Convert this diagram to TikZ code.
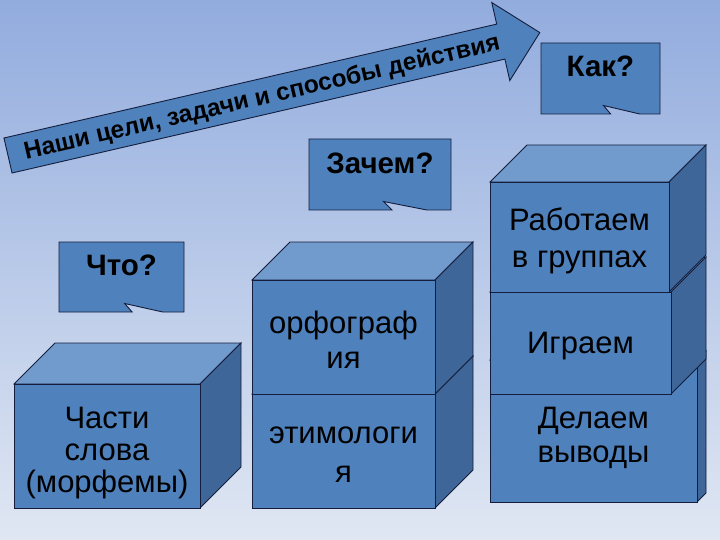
\documentclass[tikz,border=0pt]{standalone}
\usepackage{fontspec}
\setmainfont{Liberation Sans}
\definecolor{bgtop}{RGB}{146,172,222}
\definecolor{bgbot}{RGB}{224,231,243}
\definecolor{frontc}{RGB}{79,129,189}
\definecolor{topc}{RGB}{114,155,205}
\definecolor{sidec}{RGB}{62,102,152}
\definecolor{linec}{RGB}{20,30,60}
% box: #1 x1, #2 y1 (top), #3 x2, #4 y2 (bottom), #5 depth
\newcommand\drawbox[5]{%
  \filldraw[topf] (#1,#2) -- ++(#5,-#5) -- ({#3+#5},{#2-#5}) -- (#3,#2) -- cycle;
  \filldraw[sidef] (#3,#2) -- ({#3+#5},{#2-#5}) -- ({#3+#5},{#4-#5}) -- (#3,#4) -- cycle;
  \filldraw[frontf] (#1,#2) rectangle (#3,#4);}
% callout: #1 x1, #2 y1, #3 x2, #4 y2
\newcommand\drawcallout[4]{%
  \filldraw[frontf] (#1,#2) -- (#3,#2) -- (#3,#4) -- ({#1+0.83*(#3-#1)},#4)
   -- ({#1+0.525*(#3-#1)},{#4-8.5}) -- ({#1+0.585*(#3-#1)},#4) -- (#1,#4) -- cycle;}
\begin{document}
\begin{tikzpicture}[x=1pt,y=-1pt,
  edge/.style={draw=linec, line width=0.9pt, line join=miter},
  frontf/.style={edge, fill=frontc},
  topf/.style={edge, fill=topc},
  sidef/.style={edge, fill=sidec},
  lbl/.style={font=\fontsize{31}{35}\selectfont, text=black, inner sep=0pt, anchor=base},
  qlbl/.style={font=\bfseries\fontsize{29.5}{32}\selectfont, text=black, inner sep=0pt, anchor=base}]
\useasboundingbox (0,0) rectangle (720,540);
\shade[top color=bgtop, bottom color=bgbot] (0,0) rectangle (720,540);

% arrow
\filldraw[frontf] (12.05,173.0) -- (504.9,59.1) -- (509.8,80.6) -- (539.8,32.6)
  -- (491.8,2.6) -- (496.7,24.1) -- (3.95,138.0) -- cycle;
\node[font=\bfseries\fontsize{24.5}{26}\selectfont, rotate=13, inner sep=0pt] (arrowtxt) at (262,98)
  {Наши цели, задачи и способы действия};

% callouts
\drawcallout{59}{242}{184}{312}
\node[qlbl] (q1) at (121.5,275) {Что?};
\drawcallout{309}{139}{451}{210}
\node[qlbl] (q2) at (380,173.3) {Зачем?};
\drawcallout{541}{43}{660}{114}
\node[qlbl] (q3) at (600.5,76.7) {Как?};

% cube 1
\drawbox{14}{384}{200}{508}{41}
\node[lbl] (c1a) at (107,428) {Части};
\node[lbl] (c1b) at (107,460) {слова};
\node[lbl] (c1c) at (107,492) {(морфемы)};

% cube 2
\drawbox{252}{394}{435}{508}{38}
\drawbox{252}{280}{435}{394}{38}
\node[lbl] (c2a) at (343.5,333) {орфограф};
\node[lbl] (c2b) at (343.5,368) {ия};
\node[lbl] (c2c) at (343.5,443) {этимологи};
\node[lbl] (c2d) at (343.5,482) {я};

% cube 3
\drawbox{490}{360}{697}{502}{9}
\drawbox{490}{292}{671}{394}{35}
\drawbox{490}{182}{669}{292}{37}
\node[lbl] (c3a) at (579.5,230) {Работаем};
\node[lbl] (c3b) at (579.5,267) {в группах};
\node[lbl] (c3c) at (580.5,353) {Играем};
\node[lbl] (c3d) at (593.5,428) {Делаем};
\node[lbl] (c3e) at (593.5,462) {выводы};
\end{tikzpicture}
\end{document}
